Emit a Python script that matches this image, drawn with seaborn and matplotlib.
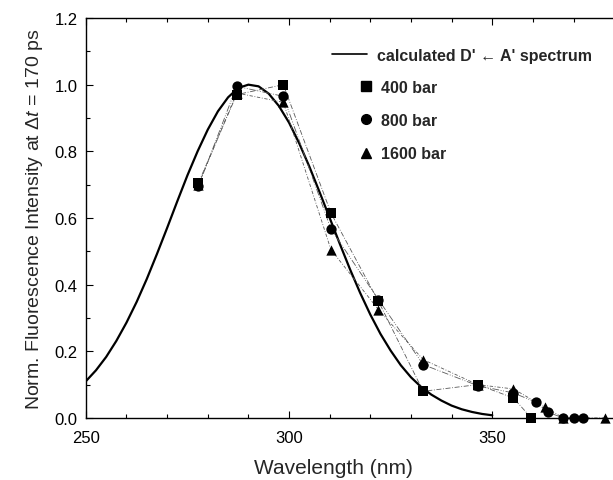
import matplotlib
matplotlib.use("Agg")
import matplotlib.pyplot as plt
import seaborn as sns
from matplotlib.lines import Line2D
from matplotlib.ticker import MultipleLocator, FormatStrFormatter

# calculated spectrum (read at 2.5 nm steps)
calc_wl = [250, 252.5, 255, 257.5, 260, 262.5, 265, 267.5, 270, 272.5, 275,
           277.5, 280, 282.5, 285, 287.5, 290, 292.5, 295, 297.5, 300, 302.5,
           305, 307.5, 310, 312.5, 315, 317.5, 320, 322.5, 325, 327.5, 330,
           332.5, 335, 337.5, 340, 342.5, 345, 347.5, 350]
calc_val = [0.110, 0.143, 0.183, 0.231, 0.286, 0.348, 0.417, 0.492, 0.570,
            0.650, 0.728, 0.800, 0.865, 0.920, 0.962, 0.990, 1.000, 0.995,
            0.973, 0.936, 0.886, 0.824, 0.754, 0.678, 0.600, 0.522, 0.446,
            0.375, 0.310, 0.252, 0.202, 0.158, 0.122, 0.093, 0.070, 0.052,
            0.037, 0.026, 0.018, 0.012, 0.008]

wl_400 = [277.7, 287.1, 298.6, 310.3, 322.0, 333.0, 346.4, 355.2, 359.6]
val_400 = [0.705, 0.970, 1.000, 0.615, 0.350, 0.080, 0.100, 0.060, 0.000]

wl_800 = [277.7, 287.1, 298.6, 310.3, 322.0, 333.0, 346.4, 355.2, 360.8,
          363.7, 367.5, 370.0, 372.2]
val_800 = [0.695, 0.995, 0.965, 0.567, 0.355, 0.160, 0.097, 0.075, 0.047,
           0.017, 0.000, 0.000, 0.000]

wl_1600 = [277.7, 287.1, 298.6, 310.3, 322.0, 333.0, 346.4, 355.2, 363.0,
           367.5, 377.8]
val_1600 = [0.700, 0.975, 0.947, 0.505, 0.325, 0.175, 0.100, 0.087, 0.032,
            0.000, 0.000]

series_labels = ["400 bar", "800 bar", "1600 bar"]
calc_label = "calculated D' \u2190 A' spectrum"

sns.set_style("ticks")
plt.rcParams['font.family'] = ['Liberation Sans', 'DejaVu Sans']
plt.rcParams['mathtext.fontset'] = 'custom'
plt.rcParams['mathtext.rm'] = 'Liberation Sans'
plt.rcParams['mathtext.it'] = 'Liberation Sans:italic'

fig = plt.figure(figsize=(6.13, 4.81), dpi=100)
ax = fig.add_axes([0.140, 0.129, 0.860, 0.8315])

sns.lineplot(x=calc_wl, y=calc_val, ax=ax, color='black', lw=1.6, sort=False)

markers = ['s', 'o', '^']
data = [(wl_400, val_400), (wl_800, val_800), (wl_1600, val_1600)]
dashes = [(0, (6, 2, 1, 2)), (0, (8, 2, 1, 2, 1, 2)), (0, (4, 2, 1, 2))]
for (w, v), d in zip(data, dashes):
    sns.lineplot(x=w, y=v, ax=ax, color='0.35', lw=0.6, linestyle=d, sort=False)
for (w, v), m in zip(data, markers):
    sns.scatterplot(x=w, y=v, ax=ax, marker=m, color='black', s=55,
                    edgecolor='black', linewidth=0, zorder=5, clip_on=False)

ax.set_xlim(250, 379.7)
ax.set_ylim(0, 1.2)
ax.xaxis.set_major_locator(MultipleLocator(50))
ax.xaxis.set_minor_locator(MultipleLocator(10))
ax.yaxis.set_major_locator(MultipleLocator(0.2))
ax.yaxis.set_minor_locator(MultipleLocator(0.1))
ax.yaxis.set_major_formatter(FormatStrFormatter('%.1f'))
ax.tick_params(which='both', direction='in', top=True, right=False,
               labelsize=12, width=0.8, colors='black')
ax.tick_params(which='major', length=5)
ax.tick_params(which='minor', length=3)
ax.tick_params(axis='x', pad=9)
ax.tick_params(axis='y', pad=6)
for sp in ['left', 'bottom', 'top']:
    ax.spines[sp].set_linewidth(1.0)
    ax.spines[sp].set_color('black')
ax.spines['right'].set_visible(False)

ax.set_xlabel("Wavelength (nm)", fontsize=15, labelpad=9)
ax.xaxis.label.set_x(0.47)
ax.set_ylabel("Norm. Fluorescence Intensity at \u0394$t$ = 170 ps", fontsize=14, labelpad=7)

leg1 = ax.legend([Line2D([], [], color='black', lw=1.2)], [calc_label],
                 loc='upper left', bbox_to_anchor=(0.455, 0.942), frameon=False,
                 prop={'weight': 'bold', 'size': 11.5},
                 handlelength=2.2, handletextpad=0.6, borderaxespad=0)
ax.add_artist(leg1)
handles = [Line2D([], [], marker=m, color='black', linestyle='none', markersize=7)
           for m in markers]
ax.legend(handles, series_labels, loc='upper left',
          bbox_to_anchor=(0.505, 0.862), frameon=False,
          prop={'weight': 'bold', 'size': 11.5}, labelspacing=1.15,
          handlelength=1.0, handletextpad=0.4, borderaxespad=0)

fig.savefig("out.png", dpi=100)
